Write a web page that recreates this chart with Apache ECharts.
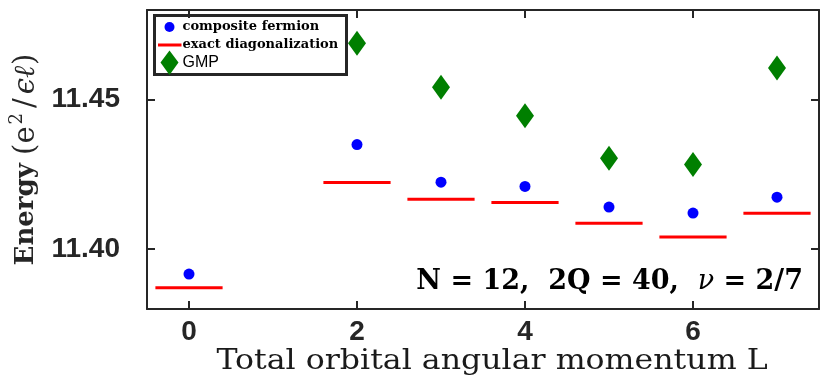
<!DOCTYPE html>
<html>
<head>
<meta charset="utf-8">
<script src="https://cdn.jsdelivr.net/npm/echarts@6/dist/echarts.min.js"></script>
<style>
  html, body { margin: 0; padding: 0; background: #fff; }
  #chart { width: 820px; height: 381px; }
</style>
</head>
<body>
<div id="chart"></div>
<script>
// energies vs total orbital angular momentum L
var cfL = [0, 2, 3, 4, 5, 6, 7];
var cfE = [11.3917, 11.4350, 11.4224, 11.4210, 11.4141, 11.4121, 11.4174];

var edL = [0, 2, 3, 4, 5, 6, 7];
var edE = [11.3871, 11.4223, 11.4167, 11.4156, 11.4087, 11.4041, 11.4120];

var gmpL = [2, 3, 4, 5, 6, 7];
var gmpE = [11.4689, 11.4542, 11.4446, 11.4304, 11.4283, 11.4606];

var xTicks = [0, 2, 4, 6];
var yTicks = [11.40, 11.45];

var frame = '#262626';
var serif = '"DejaVu Serif", serif';
var sans = '"Liberation Sans", sans-serif';

function pairs(xs, ys) {
  return xs.map(function (x, i) { return [x, ys[i]]; });
}

// mirrored box axes (top / right) carry ticks only
function boxAxis(pos, min, max, ticks) {
  return {
    type: 'value',
    position: pos,
    min: min,
    max: max,
    axisLine: { onZero: false, lineStyle: { color: frame, width: 2 } },
    axisTick: { inside: true, length: 8, customValues: ticks, lineStyle: { color: frame, width: 2 } },
    axisLabel: { show: false },
    splitLine: { show: false }
  };
}

var chart = echarts.init(document.getElementById('chart'));

var option = {
  animation: false,
  backgroundColor: '#fff',
  grid: { left: 147, right: 1, top: 10, bottom: 72, outerBoundsMode: 'none' },
  xAxis: [{
    type: 'value',
    min: -0.5,
    max: 7.5,
    axisLine: { onZero: false, lineStyle: { color: frame, width: 2 } },
    axisTick: { inside: true, length: 8, customValues: xTicks, lineStyle: { color: frame, width: 2 } },
    axisLabel: {
      customValues: xTicks, margin: 9,
      fontFamily: sans, fontWeight: 'bold', fontSize: 28, color: '#262626'
    },
    splitLine: { show: false }
  }, boxAxis('top', -0.5, 7.5, xTicks)],
  yAxis: [{
    type: 'value',
    min: 11.38,
    max: 11.48,
    name: '{b|Energy}{sp| }{r|(e}{s|2}{p|/}{i|ϵℓ}{r|)}',
    nameLocation: 'middle',
    nameGap: 101,
    nameRotate: 90,
    nameTextStyle: {
      color: '#262626',
      rich: {
        b: { fontFamily: serif, fontWeight: 'bold', fontSize: 26, lineHeight: 36, color: '#262626' },
        sp: { fontFamily: serif, fontSize: 26, lineHeight: 36, color: '#262626' },
        r: { fontFamily: serif, fontSize: 29, lineHeight: 36, color: '#262626' },
        p: { fontFamily: serif, fontSize: 29, lineHeight: 36, padding: [0, 3, 0, 3], color: '#262626' },
        s: { fontFamily: serif, fontSize: 18, lineHeight: 18, verticalAlign: 'top', padding: [0, 2, 0, 2], color: '#262626' },
        i: { fontFamily: serif, fontStyle: 'italic', fontSize: 29, lineHeight: 36, padding: [0, 1, 0, 1], color: '#262626' }
      }
    },
    axisLine: { onZero: false, lineStyle: { color: frame, width: 2 } },
    axisTick: { inside: true, length: 8, customValues: yTicks, lineStyle: { color: frame, width: 2 } },
    axisLabel: {
      customValues: yTicks, margin: 27,
      formatter: function (v) { return v.toFixed(2); },
      fontFamily: sans, fontWeight: 'bold', fontSize: 28, color: '#262626'
    },
    splitLine: { show: false }
  }, boxAxis('right', 11.38, 11.48, yTicks)],
  series: [{
    name: 'exact diagonalization',
    type: 'custom',
    data: pairs(edL, edE),
    renderItem: function (params, api) {
      var a = api.coord([api.value(0) - 0.4, api.value(1)]);
      var b = api.coord([api.value(0) + 0.4, api.value(1)]);
      return {
        type: 'line',
        shape: { x1: a[0], y1: a[1], x2: b[0], y2: b[1] },
        style: { stroke: '#ff0000', lineWidth: 3 }
      };
    }
  }, {
    name: 'composite fermion',
    type: 'scatter',
    symbol: 'circle',
    symbolSize: 11,
    itemStyle: { color: '#0000ff', opacity: 1 },
    data: pairs(cfL, cfE)
  }, {
    name: 'GMP',
    type: 'scatter',
    symbol: 'diamond',
    symbolSize: [18, 25],
    itemStyle: { color: '#007f00', opacity: 1 },
    data: pairs(gmpL, gmpE)
  }],
  graphic: [{
    // legend box
    type: 'group',
    left: 153, top: 14,
    children: [
      { type: 'rect', shape: { x: 0, y: 0, width: 192, height: 59 },
        style: { fill: '#fff', stroke: frame, lineWidth: 3 } },
      { type: 'circle', shape: { cx: 15, cy: 11.5, r: 5 }, style: { fill: '#0000ff' } },
      { type: 'text', x: 28, y: 11.5, style: { text: 'composite fermion', font: 'bold 13px "DejaVu Serif"', fill: '#000', verticalAlign: 'middle' } },
      { type: 'line', shape: { x1: 3.5, y1: 29.5, x2: 27, y2: 29.5 }, style: { stroke: '#ff0000', lineWidth: 3 } },
      { type: 'text', x: 28, y: 29.5, style: { text: 'exact diagonalization', font: 'bold 13px "DejaVu Serif"', fill: '#000', verticalAlign: 'middle' } },
      { type: 'polygon', shape: { points: [[15, 35], [24, 47], [15, 59.5], [6, 47]] }, style: { fill: '#007f00' } },
      { type: 'text', x: 28, y: 47, style: { text: 'GMP', font: '16px "Liberation Sans"', fill: '#000', verticalAlign: 'middle' } }
    ]
  }, {
    // x axis title
    type: 'text',
    x: 492, y: 362,
    scaleX: 1.17,
    style: {
      text: 'Total orbital angular momentum L',
      font: '27px "DejaVu Serif"', fill: '#1a1a1a',
      align: 'center', verticalAlign: 'middle'
    }
  }, {
    type: 'text',
    right: 17, top: 268,
    style: {
      text: '{b|N = 12,  2Q = 40,  }{i|ν}{b| = 2/7}',
      rich: {
        b: { fontFamily: serif, fontWeight: 'bold', fontSize: 27, fill: '#000' },
        i: { fontFamily: serif, fontStyle: 'italic', fontSize: 27, fill: '#000' }
      }
    }
  }]
};

chart.setOption(option);
</script>
</body>
</html>
